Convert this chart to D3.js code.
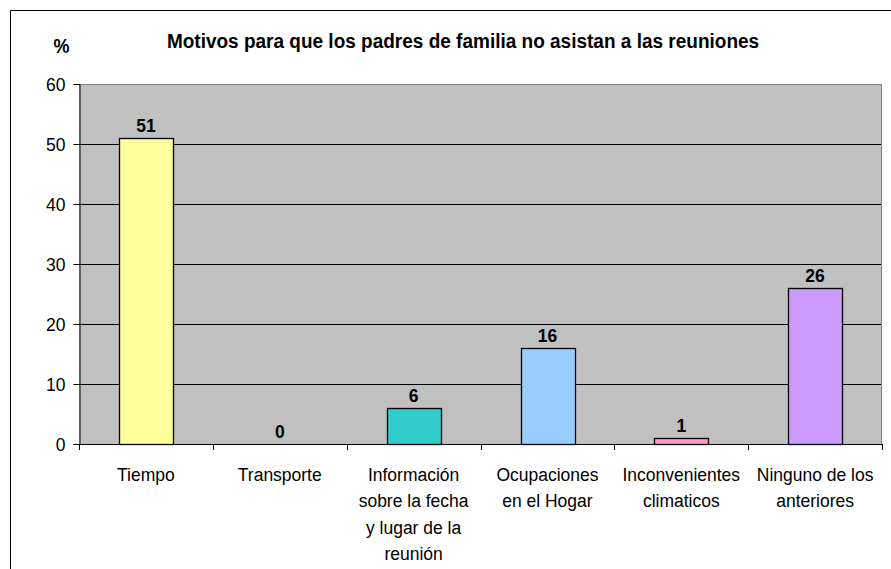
<!DOCTYPE html>
<html>
<head>
<meta charset="utf-8">
<script src="https://cdn.jsdelivr.net/npm/d3@7"></script>
<style>
  html, body { margin: 0; padding: 0; background: #fff; }
  svg { display: block; font-family: Arial, "Liberation Sans", sans-serif; }
</style>
</head>
<body>
<svg id="chart" width="891" height="569"></svg>
<script>
// Survey results: reasons parents give for missing meetings (percent)
const categories = [
  "Tiempo",
  "Transporte",
  "Información\nsobre la fecha\ny lugar de la\nreunión",
  "Ocupaciones\nen el Hogar",
  "Inconvenientes\nclimaticos",
  "Ninguno de los\nanteriores"
];
const values = [51, 0, 6, 16, 1, 26];
const barColors = ["#FFFF99", "#993366", "#33CCCC", "#99CCFF", "#FF99CC", "#CC99FF"];
const yTicks = [0, 10, 20, 30, 40, 50, 60];
const title = "Motivos para que los padres de familia no asistan a las reuniones";
const yAxisLabel = "%";

const svg = d3.select("#chart");
const plot = { left: 79, right: 882, top: 84, bottom: 444 };
const stretch = 1.1; // text is drawn slightly taller than wide

// Places a text element at (px, py) with a vertical stretch
function place(sel, px, py) {
  sel.attr("transform", (d, i, n) => {
    const X = typeof px === "function" ? px(d, i, n) : px;
    const Y = typeof py === "function" ? py(d, i, n) : py;
    return `translate(${X},${Y}) scale(1,${stretch})`;
  });
}

// Outer chart frame (continues past the visible area on the right and bottom)
svg.append("path")
  .attr("d", "M10.5,580 V10.5 H900")
  .attr("fill", "none")
  .attr("stroke", "#000")
  .attr("stroke-width", 1);

const x = d3.scaleBand()
  .domain(categories)
  .range([plot.left, plot.right])
  .paddingInner(0.6)
  .paddingOuter(0.3);

const y = d3.scaleLinear()
  .domain([0, 60])
  .range([plot.bottom, plot.top]);

// Plot area background
svg.append("rect")
  .attr("x", plot.left)
  .attr("y", plot.top)
  .attr("width", plot.right - plot.left)
  .attr("height", plot.bottom - plot.top)
  .attr("fill", "#C0C0C0");

// Horizontal gridlines
svg.append("g")
  .selectAll("line")
  .data(yTicks.filter(t => t > 0 && t < 60))
  .join("line")
  .attr("x1", plot.left)
  .attr("x2", plot.right)
  .attr("y1", d => Math.round(y(d)) + 0.5)
  .attr("y2", d => Math.round(y(d)) + 0.5)
  .attr("stroke", "#000")
  .attr("stroke-width", 1);

// Plot area border (top and right)
svg.append("path")
  .attr("d", `M${plot.left},${plot.top + 0.5} H${plot.right - 0.5} V${plot.bottom}`)
  .attr("fill", "none")
  .attr("stroke", "#808080")
  .attr("stroke-width", 1);

// Bars
svg.append("g")
  .selectAll("rect")
  .data(values.map((v, i) => ({ cat: categories[i], v, color: barColors[i] })))
  .join("rect")
  .filter(d => d.v > 0)
  .attr("x", d => Math.round(x(d.cat)) + 0.5)
  .attr("y", d => Math.round(y(d.v)) + 0.5)
  .attr("width", Math.round(x.bandwidth()))
  .attr("height", d => Math.round(y(0)) - Math.round(y(d.v)))
  .attr("fill", d => d.color)
  .attr("stroke", "#000")
  .attr("stroke-width", 1.3);

// Value labels
svg.append("g")
  .selectAll("text")
  .data(values.map((v, i) => ({ cat: categories[i], v })))
  .join("text")
  .call(place, d => x(d.cat) + x.bandwidth() / 2, d => y(d.v) - 6)
  .attr("text-anchor", "middle")
  .attr("font-size", 17.5)
  .attr("font-weight", "bold")
  .attr("fill", "#000")
  .text(d => d.v);

// Y axis
const yAxis = d3.axisLeft(y).tickValues(yTicks).tickSize(6).tickPadding(8);
const gy = svg.append("g")
  .attr("transform", `translate(${plot.left + 0.5},0)`)
  .call(yAxis);
gy.select(".domain").attr("stroke", "#000");
gy.selectAll(".tick line").attr("stroke", "#000");
gy.selectAll(".tick text")
  .attr("font-size", 17.5)
  .attr("font-family", "Arial, 'Liberation Sans', sans-serif")
  .attr("fill", "#000")
  .attr("transform", `scale(1,${stretch})`);

// X axis: baseline plus tick marks at category boundaries
const step = x.step();
const boundaries = d3.range(categories.length + 1).map(i => plot.left + i * step);
svg.append("line")
  .attr("x1", plot.left)
  .attr("x2", plot.right)
  .attr("y1", plot.bottom + 0.5)
  .attr("y2", plot.bottom + 0.5)
  .attr("stroke", "#000");
svg.append("g")
  .selectAll("line")
  .data(boundaries)
  .join("line")
  .attr("x1", d => Math.round(d) + 0.5)
  .attr("x2", d => Math.round(d) + 0.5)
  .attr("y1", plot.bottom)
  .attr("y2", plot.bottom + 6)
  .attr("stroke", "#000");

// Category labels (multi-line)
const catLabels = svg.append("g")
  .selectAll("text")
  .data(categories)
  .join("text")
  .call(place, d => x(d) + x.bandwidth() / 2, 481)
  .attr("text-anchor", "middle")
  .attr("font-size", 17.5)
  .attr("fill", "#000");
catLabels.each(function(d) {
  const t = d3.select(this);
  d.split("\n").forEach((line, i) => {
    t.append("tspan")
      .attr("x", 0)
      .attr("dy", i === 0 ? 0 : 26.5 / stretch)
      .text(line);
  });
});

// Title
svg.append("text")
  .call(place, 463, 48)
  .attr("text-anchor", "middle")
  .attr("font-size", 19)
  .attr("font-weight", "bold")
  .attr("fill", "#000")
  .text(title);

// Y axis unit label
svg.append("text")
  .call(place, 61.5, 53)
  .attr("text-anchor", "middle")
  .attr("font-size", 18)
  .attr("font-weight", "bold")
  .attr("fill", "#000")
  .text(yAxisLabel);
</script>
</body>
</html>
